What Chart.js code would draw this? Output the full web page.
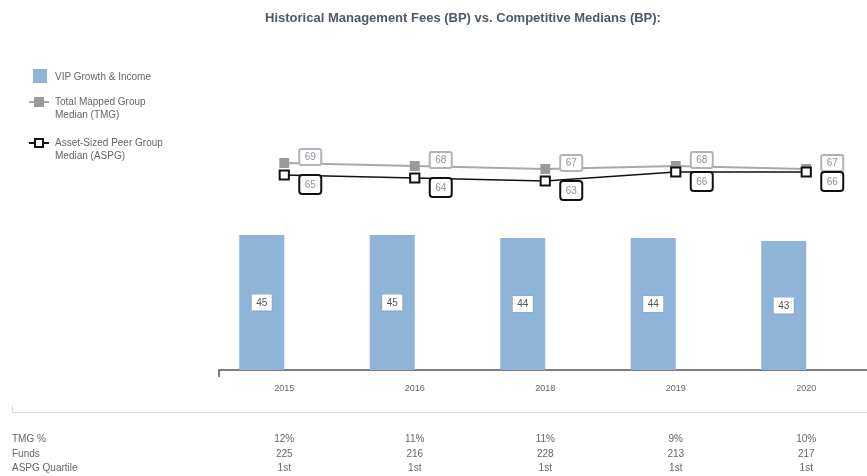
<!DOCTYPE html>
<html>
<head>
<meta charset="utf-8">
<script src="https://cdn.jsdelivr.net/npm/chart.js@4"></script>
<style>
  html, body { margin:0; padding:0; background:#fff; overflow:hidden; width:867px; height:476px; }
  body { position:relative; font-family:"Liberation Sans", Arial, sans-serif; }
  #wrap { position:absolute; left:0; top:0; width:880px; height:476px; }
  .abs { position:absolute; white-space:nowrap; }
  #title { left:0; width:926px; top:10px; text-align:center; font-weight:bold; font-size:13px; color:#4e5964; letter-spacing:0px; }
  .lg { font-size:10px; color:#666; line-height:13px; }
  .tb { font-size:10px; color:#666; line-height:12px; }
</style>
</head>
<body>
<div id="wrap"><canvas id="c" width="880" height="476"></canvas></div>
<div id="title" class="abs">Historical Management Fees (BP) vs. Competitive Medians (BP):</div>
<div id="legend"></div>
<div id="table"></div>
<script>
const categories = ['2015', '2016', '2018', '2019', '2020'];
const vipFees = [45, 45, 44, 44, 43];
const tmgMedian = [69, 68, 67, 68, 67];
const aspgMedian = [65, 64, 63, 66, 66];
const tmgPct = ['12%', '11%', '11%', '9%', '10%'];
const funds = ['225', '216', '228', '213', '217'];
const aspgQuartile = ['1st', '1st', '1st', '1st', '1st'];
const seriesNames = ['VIP Growth & Income', 'Total Mapped Group Median (TMG)', 'Asset-Sized Peer Group Median (ASPG)'];
const tableRows = [['TMG %', tmgPct], ['Funds', funds], ['ASPG Quartile', aspgQuartile]];

const BAR = '#8fb4d7';

function roundRect(ctx, x, y, w, h, r) {
  ctx.beginPath();
  ctx.moveTo(x + r, y);
  ctx.lineTo(x + w - r, y); ctx.quadraticCurveTo(x + w, y, x + w, y + r);
  ctx.lineTo(x + w, y + h - r); ctx.quadraticCurveTo(x + w, y + h, x + w - r, y + h);
  ctx.lineTo(x + r, y + h); ctx.quadraticCurveTo(x, y + h, x, y + h - r);
  ctx.lineTo(x, y + r); ctx.quadraticCurveTo(x, y, x + r, y);
  ctx.closePath();
}

const decor = {
  id: 'decor',
  beforeDatasetsDraw(chart) {
    const ctx = chart.ctx;
    const a = chart.chartArea;
    ctx.save();
    ctx.strokeStyle = '#555';
    ctx.lineWidth = 1.5;
    ctx.beginPath();
    ctx.moveTo(a.left, a.bottom + 7);
    ctx.lineTo(a.left, a.bottom);
    ctx.lineTo(867, a.bottom);
    ctx.stroke();
    ctx.strokeStyle = '#dcdcdc';
    ctx.lineWidth = 1;
    ctx.beginPath();
    ctx.moveTo(12.5, 405);
    ctx.lineTo(12.5, 412.5);
    ctx.lineTo(867, 412.5);
    ctx.stroke();
    ctx.restore();
  },
  afterDatasetsDraw(chart) {
    const ctx = chart.ctx;
    ctx.save();
    ctx.font = '10px "Liberation Sans", Arial, sans-serif';
    ctx.textAlign = 'center';
    ctx.textBaseline = 'middle';
    const bm = chart.getDatasetMeta(2);
    bm.data.forEach((el, i) => {
      const cy = (el.y + el.base) / 2;
      ctx.fillStyle = '#fff';
      ctx.shadowColor = 'rgba(0,0,0,0.12)';
      ctx.shadowBlur = 2;
      ctx.fillRect(el.x - 10, cy - 8, 20, 16);
      ctx.shadowBlur = 0;
      ctx.fillStyle = '#555';
      ctx.fillText(String(vipFees[i]), el.x, cy + 0.5);
    });
    const tm = chart.getDatasetMeta(1);
    tm.data.forEach((el, i) => {
      const cx = el.x + 26, cy = el.y - 6;
      roundRect(ctx, cx - 11, cy - 8, 22, 16, 2);
      ctx.fillStyle = '#fff'; ctx.fill();
      ctx.strokeStyle = '#b3b3b3'; ctx.lineWidth = 2; ctx.stroke();
      ctx.fillStyle = '#8a95a0';
      ctx.fillText(String(tmgMedian[i]), cx, cy + 0.5);
    });
    const am = chart.getDatasetMeta(0);
    am.data.forEach((el, i) => {
      const cx = el.x + 26, cy = el.y + 9;
      roundRect(ctx, cx - 11, cy - 9, 22, 19, 3);
      ctx.fillStyle = '#fff'; ctx.fill();
      ctx.strokeStyle = '#111'; ctx.lineWidth = 2; ctx.stroke();
      ctx.fillStyle = '#8a95a0';
      ctx.fillText(String(aspgMedian[i]), cx, cy + 1);
    });
    ctx.restore();
  }
};

const chart = new Chart(document.getElementById('c'), {
  type: 'bar',
  data: {
    labels: categories,
    datasets: [
      { type: 'line', label: seriesNames[2], data: aspgMedian, order: 0,
        borderColor: '#111', borderWidth: 1.5, backgroundColor: '#fff',
        pointStyle: 'rect', pointRadius: 6.5, pointBorderWidth: 2,
        pointBackgroundColor: '#fff', pointBorderColor: '#111', tension: 0 },
      { type: 'line', label: seriesNames[1], data: tmgMedian, order: 1,
        borderColor: '#a8a8a8', borderWidth: 2, backgroundColor: '#999',
        pointStyle: 'rect', pointRadius: 7, pointBorderWidth: 0,
        pointBackgroundColor: '#9a9a9a', pointBorderColor: '#9a9a9a', tension: 0 },
      { label: seriesNames[0], data: vipFees, order: 2, backgroundColor: BAR,
        borderWidth: 0, barPercentage: 1, categoryPercentage: 0.69 },
      { label: '', data: categories.map(() => null), order: 3, backgroundColor: 'rgba(0,0,0,0)',
        barPercentage: 1, categoryPercentage: 0.69 }
    ]
  },
  options: {
    responsive: false,
    animation: false,
    layout: { padding: { left: 219, right: 0, top: 70, bottom: 76 } },
    plugins: { legend: { display: false }, title: { display: false }, tooltip: { enabled: false } },
    scales: {
      x: {
        grid: { display: false, drawTicks: false },
        border: { display: false },
        ticks: { color: '#666', font: { family: '"Liberation Sans", Arial, sans-serif', size: 9 }, padding: 13, maxRotation: 0 },
        afterFit(scale) { scale.height = 30; }
      },
      y: { display: false, min: 0, max: 100 }
    }
  },
  plugins: [decor]
});

const lg = document.getElementById('legend');
lg.innerHTML =
  '<div class="abs" style="left:33px;top:69px;width:14px;height:14px;background:' + BAR + '"></div>' +
  '<div class="abs lg" style="left:55px;top:70px;">' + seriesNames[0] + '</div>' +
  '<div class="abs" style="left:29px;top:101px;width:20px;height:2px;background:#a8a8a8"></div>' +
  '<div class="abs" style="left:34px;top:97px;width:10px;height:10px;background:#9a9a9a"></div>' +
  '<div class="abs lg" style="left:55px;top:95px;">Total Mapped Group<br>Median (TMG)</div>' +
  '<div class="abs" style="left:29px;top:142px;width:20px;height:2px;background:#111"></div>' +
  '<div class="abs" style="left:34px;top:138px;width:6px;height:6px;background:#fff;border:2px solid #111"></div>' +
  '<div class="abs lg" style="left:55px;top:136px;">Asset-Sized Peer Group<br>Median (ASPG)</div>';

const tb = document.getElementById('table');
const xs = chart.scales.x;
const rowY = [433, 448, 462];
let html = '';
tableRows.forEach((row, r) => {
  html += '<div class="abs tb" style="left:12px;top:' + rowY[r] + 'px;">' + row[0] + '</div>';
  row[1].forEach((v, i) => {
    const px = xs.getPixelForValue(i);
    html += '<div class="abs tb" style="left:' + (px - 30) + 'px;width:60px;text-align:center;top:' + rowY[r] + 'px;">' + v + '</div>';
  });
});
tb.innerHTML = html;
</script>
</body>
</html>
